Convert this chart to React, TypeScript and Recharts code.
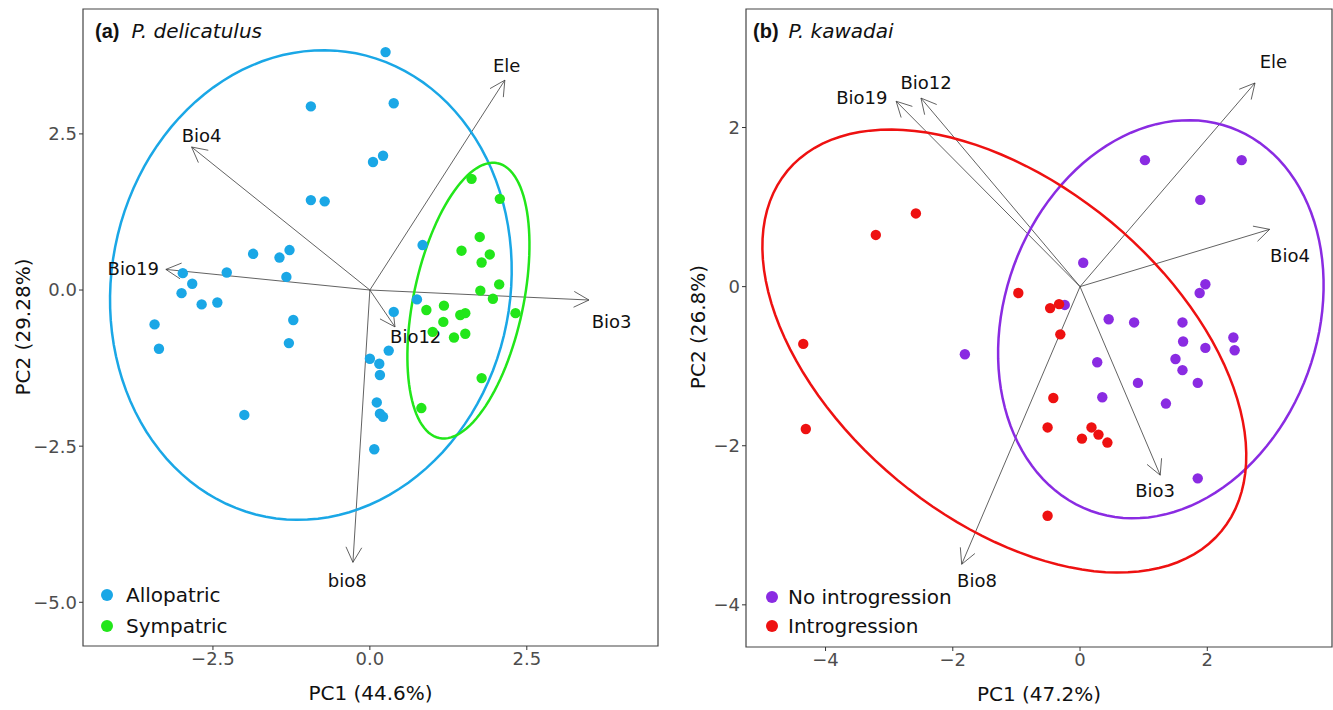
import React from "react";
import {
  ScatterChart,
  Scatter,
  XAxis,
  YAxis,
  ReferenceLine,
  ReferenceArea,
  Legend,
} from "recharts";

const FONT = "DejaVu Sans, Liberation Sans, sans-serif";

// ---- panel (a) P. delicatulus ----
const allopatric = [
  { x: 0.25, y: 3.81 }, { x: -0.94, y: 2.94 }, { x: 0.38, y: 2.99 }, { x: 0.05, y: 2.05 },
  { x: 0.21, y: 2.15 }, { x: -0.94, y: 1.44 }, { x: -0.72, y: 1.42 }, { x: -1.86, y: 0.58 },
  { x: -1.44, y: 0.52 }, { x: -1.28, y: 0.64 }, { x: -1.33, y: 0.21 }, { x: -2.28, y: 0.28 },
  { x: -2.98, y: 0.27 }, { x: -2.83, y: 0.1 }, { x: -3.0, y: -0.05 }, { x: -2.68, y: -0.23 },
  { x: -2.43, y: -0.2 }, { x: -1.22, y: -0.48 }, { x: -3.43, y: -0.55 }, { x: -1.29, y: -0.85 },
  { x: -3.36, y: -0.94 }, { x: -2.0, y: -2.0 }, { x: 0.84, y: 0.72 }, { x: 0.75, y: -0.15 },
  { x: 0.38, y: -0.35 }, { x: 0.3, y: -0.97 }, { x: 0.0, y: -1.1 }, { x: 0.15, y: -1.18 },
  { x: 0.16, y: -1.36 }, { x: 0.11, y: -1.8 }, { x: 0.16, y: -1.98 }, { x: 0.21, y: -2.03 },
  { x: 0.07, y: -2.55 },
];

const sympatric = [
  { x: 1.62, y: 1.78 }, { x: 2.07, y: 1.46 }, { x: 1.75, y: 0.85 }, { x: 1.46, y: 0.63 },
  { x: 1.91, y: 0.57 }, { x: 1.78, y: 0.44 }, { x: 1.76, y: -0.01 }, { x: 2.06, y: 0.09 },
  { x: 1.96, y: -0.14 }, { x: 2.32, y: -0.37 }, { x: 0.9, y: -0.32 }, { x: 1.18, y: -0.25 },
  { x: 1.17, y: -0.51 }, { x: 1.44, y: -0.4 }, { x: 1.52, y: -0.37 }, { x: 1.0, y: -0.67 },
  { x: 1.52, y: -0.7 }, { x: 1.34, y: -0.76 }, { x: 1.78, y: -1.41 }, { x: 0.82, y: -1.89 },
];

const arrowsA = [
  { name: "Ele", x: 2.15, y: 3.36 },
  { name: "Bio3", x: 3.49, y: -0.16 },
  { name: "Bio12", x: 0.4, y: -0.59 },
  { name: "Bio4", x: -2.84, y: 2.29 },
  { name: "Bio19", x: -3.25, y: 0.33 },
  { name: "bio8", x: -0.27, y: -4.36 },
];
const arrowLabelsA = [
  { name: "Ele", x: 2.18, y: 3.6 },
  { name: "Bio3", x: 3.85, y: -0.5 },
  { name: "Bio12", x: 0.73, y: -0.74 },
  { name: "Bio4", x: -2.68, y: 2.48 },
  { name: "Bio19", x: -3.77, y: 0.34 },
  { name: "bio8", x: -0.36, y: -4.65 },
];

// ellipse: centre + two conjugate semi-axes (data units)
const ellipseAllopatric = { cx: -0.94, cy: 0.08, ux: 0.718, uy: 3.71, vx: 3.118, vy: -0.61 };
const ellipseSympatric = { cx: 1.57, cy: -0.17, ux: 0.465, uy: 2.2, vx: 0.854, vy: -0.182 };

// ---- panel (b) P. kawadai ----
const noIntrogression = [
  { x: 1.02, y: 1.59 }, { x: 2.54, y: 1.59 }, { x: 1.89, y: 1.09 }, { x: 0.05, y: 0.3 },
  { x: 1.97, y: 0.03 }, { x: 1.88, y: -0.08 }, { x: -0.24, y: -0.23 }, { x: 0.45, y: -0.41 },
  { x: 0.85, y: -0.45 }, { x: 1.61, y: -0.45 }, { x: 1.62, y: -0.69 }, { x: 1.97, y: -0.77 },
  { x: 2.41, y: -0.64 }, { x: 2.43, y: -0.8 }, { x: 1.5, y: -0.91 }, { x: 1.61, y: -1.05 },
  { x: 0.27, y: -0.95 }, { x: 0.91, y: -1.21 }, { x: 1.85, y: -1.21 }, { x: 0.35, y: -1.39 },
  { x: 1.35, y: -1.47 }, { x: 1.85, y: -2.41 }, { x: -1.81, y: -0.85 },
];

const introgression = [
  { x: -2.58, y: 0.92 }, { x: -3.21, y: 0.65 }, { x: -4.35, y: -0.72 }, { x: -4.31, y: -1.79 },
  { x: -0.97, y: -0.08 }, { x: -0.47, y: -0.27 }, { x: -0.33, y: -0.22 }, { x: -0.31, y: -0.6 },
  { x: -0.42, y: -1.4 }, { x: -0.51, y: -1.77 }, { x: 0.18, y: -1.77 }, { x: 0.29, y: -1.86 },
  { x: 0.03, y: -1.91 }, { x: 0.43, y: -1.96 }, { x: -0.51, y: -2.88 },
];

const arrowsB = [
  { name: "Ele", x: 2.75, y: 2.56 },
  { name: "Bio4", x: 2.98, y: 0.72 },
  { name: "Bio3", x: 1.26, y: -2.37 },
  { name: "Bio8", x: -1.86, y: -3.49 },
  { name: "Bio19", x: -2.89, y: 2.33 },
  { name: "Bio12", x: -2.5, y: 2.37 },
];
const arrowLabelsB = [
  { name: "Ele", x: 3.04, y: 2.83 },
  { name: "Bio4", x: 3.3, y: 0.39 },
  { name: "Bio3", x: 1.18, y: -2.56 },
  { name: "Bio8", x: -1.62, y: -3.69 },
  { name: "Bio19", x: -3.43, y: 2.38 },
  { name: "Bio12", x: -2.42, y: 2.57 },
];

const ellipseIntro = { cx: -1.19, cy: -0.81, ux: 3.41, uy: -2.265, vx: -1.683, vy: -1.619 };
const ellipseNoIntro = { cx: 1.27, cy: -0.41, ux: 1.097, uy: 2.41, vx: 2.311, vy: -0.672 };

type Ell = { cx: number; cy: number; ux: number; uy: number; vx: number; vy: number };

const ellipsePath = (e: Ell, n = 120) =>
  Array.from({ length: n + 1 }, (_, i) => {
    const t = (2 * Math.PI * i) / n;
    return {
      x: e.cx + e.ux * Math.cos(t) + e.vx * Math.sin(t),
      y: e.cy + e.uy * Math.cos(t) + e.vy * Math.sin(t),
    };
  });

const Arrow = (props: any) => {
  const { x1, y1, x2, y2 } = props;
  const a = Math.atan2(y2 - y1, x2 - x1);
  const len = 17;
  const spread = Math.PI / 6.5;
  const p1 = [x2 - len * Math.cos(a - spread), y2 - len * Math.sin(a - spread)];
  const p2 = [x2 - len * Math.cos(a + spread), y2 - len * Math.sin(a + spread)];
  return (
    <g stroke="#3a3a3a" strokeWidth={0.8} fill="none">
      <line x1={x1} y1={y1} x2={x2} y2={y2} />
      <path d={`M${p1[0]},${p1[1]} L${x2},${y2} L${p2[0]},${p2[1]}`} />
    </g>
  );
};

const dot = (color: string) => (p: any) => <circle cx={p.cx} cy={p.cy} r={5.2} fill={color} />;
const noShape = () => <g />;
const textShape = (p: any) => (
  <text
    x={p.cx}
    y={p.cy}
    textAnchor="middle"
    dominantBaseline="central"
    fontFamily={FONT}
    fontSize={18}
    fill="#111"
  >
    {p.payload.name}
  </text>
);

const YTitle = ({ viewBox, text, dx }: any) => {
  const x = viewBox.x + dx;
  const y = 327;
  return (
    <text
      x={x}
      y={y}
      transform={`rotate(-90 ${x} ${y})`}
      textAnchor="middle"
      dominantBaseline="central"
      fontFamily={FONT}
      fontSize={20}
      fill="#111"
    >
      {text}
    </text>
  );
};

const XTitle = ({ viewBox, text }: any) => (
  <text
    x={viewBox.x + viewBox.width / 2}
    y={viewBox.y + 47}
    textAnchor="middle"
    dominantBaseline="central"
    fontFamily={FONT}
    fontSize={20}
    fill="#111"
  >
    {text}
  </text>
);

const LegendBox = ({ items, gap, rowH }: { items: { name: string; color: string }[]; gap: number; rowH: number }) => (
  <div style={{ fontFamily: FONT, fontSize: 20, color: "#111" }}>
    {items.map((it) => (
      <div key={it.name} style={{ display: "flex", alignItems: "center", height: rowH }}>
        <svg width={14} height={14} style={{ marginRight: gap }}>
          <circle cx={7} cy={7} r={6} fill={it.color} />
        </svg>
        <span>{it.name}</span>
      </div>
    ))}
  </div>
);

const fmt1 = (v: number) => (v < 0 ? "\u2212" : "") + Math.abs(v).toFixed(1);
const fmt0 = (v: number) => (v < 0 ? "\u2212" : "") + Math.abs(v).toFixed(0);

const tickStyle = { fontFamily: FONT, fontSize: 18, fill: "#4d4d4d" };

type PanelProps = {
  left: number;
  width: number;
  margin: { top: number; right: number; bottom: number; left: number };
  xDomain: [number, number];
  yDomain: [number, number];
  xTicks: number[];
  yTicks: number[];
  fmt: (v: number) => string;
  xTitle: string;
  yTitle: string;
  yTitleDx: number;
  xAxisH: number;
  groups: { name: string; color: string; data: { x: number; y: number }[]; ellipse: Ell }[];
  arrows: { name: string; x: number; y: number }[];
  labels: { name: string; x: number; y: number }[];
  legendPos: { left: number; top: number; gap: number; rowH: number };
  tag: string;
  species: string;
  titleLeft: number;
  speciesLeft: number;
};

const Panel = (p: PanelProps) => (
  <div style={{ position: "absolute", left: p.left, top: 0, width: p.width, height: 710 }}>
    <ScatterChart width={p.width} height={710} margin={p.margin}>
      <XAxis
        type="number"
        dataKey="x"
        domain={p.xDomain}
        ticks={p.xTicks}
        tickFormatter={p.fmt}
        allowDataOverflow
        axisLine={false}
        tickLine={{ stroke: "#333" }}
        tickSize={4}
        tick={tickStyle}
        height={p.xAxisH}
        label={<XTitle text={p.xTitle} />}
      />
      <YAxis
        type="number"
        dataKey="y"
        domain={p.yDomain}
        ticks={p.yTicks}
        tickFormatter={p.fmt}
        allowDataOverflow
        axisLine={false}
        tickLine={{ stroke: "#333" }}
        tickSize={4}
        tick={tickStyle}
        width={60}
        label={<YTitle text={p.yTitle} dx={p.yTitleDx} />}
      />
      {p.groups.map((g) => (
        <Scatter
          key={g.name + "-ell"}
          data={ellipsePath(g.ellipse)}
          line={{ stroke: g.color, strokeWidth: 2.5 }}
          lineType="joint"
          shape={noShape}
          isAnimationActive={false}
          legendType="none"
        />
      ))}
      {p.arrows.map((a) => (
        <ReferenceLine
          key={a.name}
          segment={[
            { x: 0, y: 0 },
            { x: a.x, y: a.y },
          ]}
          shape={Arrow}
          ifOverflow="visible"
        />
      ))}
      <Scatter data={p.labels} shape={textShape} isAnimationActive={false} legendType="none" />
      {p.groups.map((g) => (
        <Scatter key={g.name} name={g.name} data={g.data} shape={dot(g.color)} isAnimationActive={false} />
      ))}
      <ReferenceArea
        x1={p.xDomain[0]}
        x2={p.xDomain[1]}
        y1={p.yDomain[0]}
        y2={p.yDomain[1]}
        fill="none"
        stroke="#444"
        strokeWidth={1.2}
        ifOverflow="visible"
      />
      <Legend
        layout="vertical"
        align="center"
        verticalAlign="middle"
        wrapperStyle={{ left: p.legendPos.left, top: p.legendPos.top, width: 260 }}
        content={() => (
          <LegendBox
            items={p.groups.map((g) => ({ name: g.name, color: g.color }))}
            gap={p.legendPos.gap}
            rowH={p.legendPos.rowH}
          />
        )}
      />
    </ScatterChart>
    <div
      style={{
        position: "absolute",
        left: p.titleLeft,
        top: 19,
        color: "#111",
        display: "flex",
        alignItems: "baseline",
        whiteSpace: "nowrap",
      }}
    >
      <span style={{ fontFamily: "Liberation Sans, Arial, sans-serif", fontWeight: "bold", fontSize: 20 }}>
        {p.tag}
      </span>
      <span style={{ fontFamily: FONT, fontStyle: "italic", fontSize: 20, marginLeft: p.speciesLeft }}>
        {p.species}
      </span>
    </div>
  </div>
);

export default function App() {
  return (
    <div style={{ position: "absolute", left: 0, top: 0, width: 1333, height: 710, background: "#fff" }}>
      <Panel
        left={0}
        width={663}
        margin={{ top: 9, right: 5, bottom: 0, left: 23 }}
        xDomain={[-4.57, 4.59]}
        yDomain={[-5.7, 4.5]}
        xTicks={[-2.5, 0, 2.5]}
        yTicks={[-5, -2.5, 0, 2.5]}
        fmt={fmt1}
        xTitle="PC1 (44.6%)"
        yTitle="PC2 (29.28%)"
        yTitleDx={0}
        xAxisH={64}
        groups={[
          { name: "Allopatric", color: "#1aa7e6", data: allopatric, ellipse: ellipseAllopatric },
          { name: "Sympatric", color: "#22e61a", data: sympatric, ellipse: ellipseSympatric },
        ]}
        arrows={arrowsA}
        labels={arrowLabelsA}
        legendPos={{ left: 100, top: 579, gap: 12, rowH: 31.5 }}
        tag="(a)"
        species="P. delicatulus"
        titleLeft={95}
        speciesLeft={12}
      />
      <Panel
        left={670}
        width={663}
        margin={{ top: 9, right: 1, bottom: 0, left: 16 }}
        xDomain={[-5.25, 3.96]}
        yDomain={[-4.53, 3.49]}
        xTicks={[-4, -2, 0, 2]}
        yTicks={[-4, -2, 0, 2]}
        fmt={fmt0}
        xTitle="PC1 (47.2%)"
        yTitle="PC2 (26.8%)"
        yTitleDx={12}
        xAxisH={63}
        groups={[
          { name: "No introgression", color: "#8a2be2", data: noIntrogression, ellipse: ellipseNoIntro },
          { name: "Introgression", color: "#ee1111", data: introgression, ellipse: ellipseIntro },
        ]}
        arrows={arrowsB}
        labels={arrowLabelsB}
        legendPos={{ left: 95, top: 582, gap: 9, rowH: 29.5 }}
        tag="(b)"
        species="P. kawadai"
        titleLeft={83}
        speciesLeft={10}
      />
    </div>
  );
}
